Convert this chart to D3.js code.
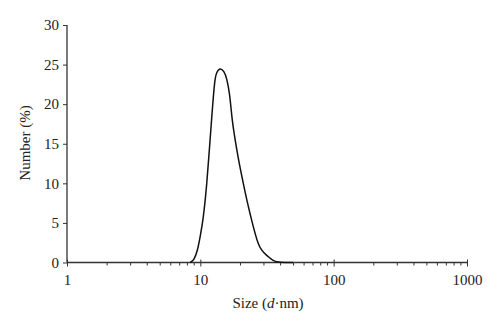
<!DOCTYPE html>
<html>
<head>
<meta charset="utf-8">
<script src="https://cdn.jsdelivr.net/npm/d3@7"></script>
<style>
  body { margin: 0; background: #fff; }
  text { font-family: "Liberation Serif", "Times New Roman", serif; fill: #222; }
</style>
</head>
<body>
<div id="container"></div>
<script>
/* DATA */
const sizes = [8.4, 9.0, 9.5, 10.0, 10.53, 11.17, 11.68, 12.3, 12.9, 13.3, 14.1, 15.0, 15.8, 16.5, 17.4, 18.8, 21.0, 23.9, 27.2, 32.4, 37.4, 43, 49.5];
const numbers = [0, 0.5, 1.58, 3.4, 5.8, 10.0, 14.2, 19.3, 23.1, 24.0, 24.45, 24.1, 23.1, 21.4, 17.9, 14.2, 10.0, 5.8, 2.4, 0.73, 0.1, 0.0, 0];
const xTicks = [1, 10, 100, 1000];
const yTicks = [0, 5, 10, 15, 20, 25, 30];

const width = 500, height = 329;
const margin = {top: 25, bottom: 66.5, left: 67, right: 33};

let svg = d3.select("#container").append("svg")
  .attr("width", width)
  .attr("height", height);

/* SCALES */
const xScale = d3.scaleLog()
  .domain([1, 1000])
  .range([margin.left, width - margin.right]);

const yScale = d3.scaleLinear()
  .domain([0, 30])
  .range([height - margin.bottom, margin.top]);

// minor ticks on the log axis
let minor = [];
for (let d = 1; d < 1000; d *= 10) {
  for (let k = 2; k <= 9; k++) minor.push(d * k);
}

/* AXES */
const xAxis = svg.append("g")
  .attr("transform", `translate(0,${yScale(0)})`)
  .call(d3.axisBottom(xScale).tickValues(xTicks).tickFormat(d3.format("d")).tickSize(4).tickPadding(8));
xAxis.selectAll(".tick line").attr("y1", -3);

svg.append("g")
  .attr("transform", `translate(0,${yScale(0)})`)
  .selectAll("line.minor")
  .data(minor)
  .join("line")
  .attr("class", "minor")
  .attr("x1", d => xScale(d))
  .attr("x2", d => xScale(d))
  .attr("y1", 0)
  .attr("y2", 3)
  .attr("stroke", "#333")
  .attr("stroke-width", 1);

const yAxis = svg.append("g")
  .attr("transform", `translate(${xScale(1)},0)`)
  .call(d3.axisLeft(yScale).tickValues(yTicks).tickSize(4).tickPadding(4));

svg.selectAll(".domain").attr("stroke", "#333").attr("stroke-width", 1.3);
svg.selectAll(".tick line").attr("stroke", "#333").attr("stroke-width", 1);
svg.selectAll(".tick text")
  .style("font-family", "'Liberation Serif', serif")
  .style("font-size", "15px")
  .attr("fill", "#222");
xAxis.select(".domain").attr("d", `M${xScale(1)},0H${xScale(1000)}`);
yAxis.select(".domain").attr("d", `M0,${yScale(30)}V${yScale(0)}`);

/* LINE */
const line = d3.line()
  .x((d, i) => xScale(sizes[i]))
  .y(d => yScale(d))
  .curve(d3.curveMonotoneX);

svg.append("path")
  .datum(numbers)
  .attr("d", line)
  .attr("fill", "none")
  .attr("stroke", "#111")
  .attr("stroke-width", 1.5);

/* TITLES */
const xt = svg.append("text")
  .attr("x", 268)
  .attr("y", 308)
  .attr("text-anchor", "middle")
  .style("font-size", "15px");
xt.append("tspan").text("Size (");
xt.append("tspan").style("font-style", "italic").text("d");
xt.append("tspan").text("·nm)");

svg.append("text")
  .attr("transform", "translate(30,143) rotate(-90)")
  .attr("text-anchor", "middle")
  .style("font-size", "15px")
  .text("Number (%)");
</script>
</body>
</html>
